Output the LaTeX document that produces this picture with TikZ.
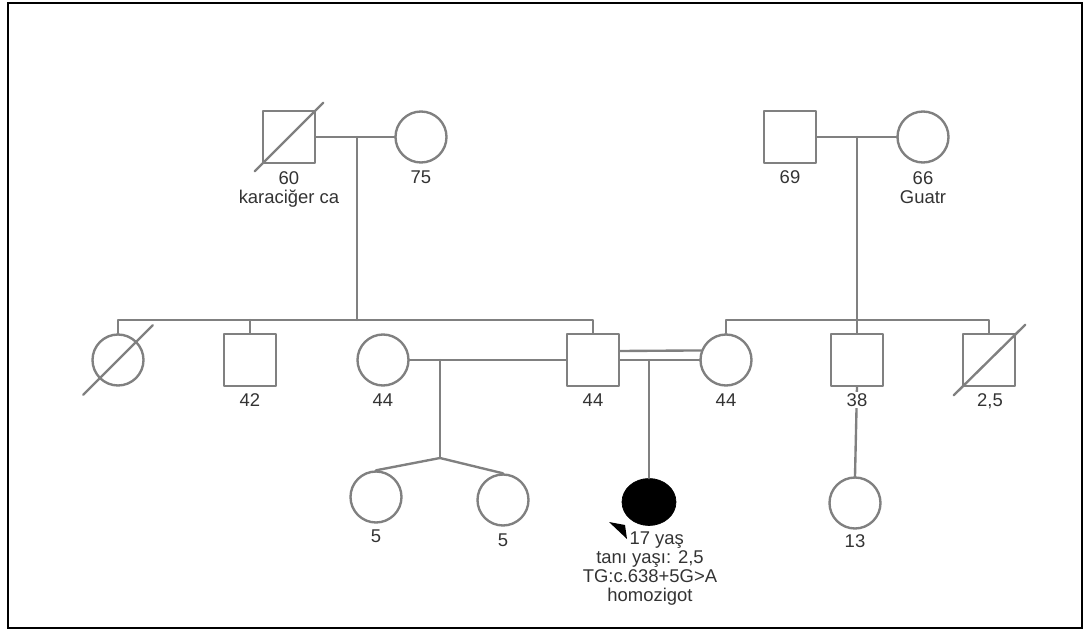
\documentclass[tikz,border=0pt]{standalone}
\usepackage{fontspec}
\setmainfont{Liberation Sans}
\usetikzlibrary{shapes.geometric}

\begin{document}
\begin{tikzpicture}[x=.02cm, y=-.02cm, line cap=round, line join=round]
  \tikzset{conn/.style={draw=gray, line width=1.35pt},
    male/.style={conn, rectangle, minimum size=1.04cm, inner sep=0pt},
    female/.style={conn, circle, minimum size=1.02cm, inner sep=0pt},
    affected/.style={draw=black, fill=black, ellipse, minimum width=1.08cm, minimum height=.94cm, inner sep=0pt},
    lbl/.style={text=black!80, font=\fontsize{10.5}{10.8}\selectfont, align=center, inner sep=1pt}}

  \useasboundingbox (0,0) rectangle (1090,632);
  \draw[black, line width=1.6pt, line cap=butt, line join=miter] (8,3) rectangle (1082,628);

  % grandparents
  \node[male] (gf) at (289,137) {};
  \node[female] (gm) at (421,137) {};
  \node[male] (gf2) at (790,137) {};
  \node[female] (gm2) at (923,137) {};

  % second generation
  \node[female] (aunt) at (118,360) {};
  \node[male] (uncle) at (250,360) {};
  \node[female] (wife1) at (383,360) {};
  \node[male] (dad) at (593,360) {};
  \node[female] (mom) at (726,360) {};
  \node[male] (muncle) at (857,360) {};
  \node[male] (mbro) at (989,360) {};

  % third generation
  \node[female] (twin1) at (376,497) {};
  \node[female] (twin2) at (503,500) {};
  \node[affected] (proband) at (649,502) {};
  \node[female] (cousin) at (855,503) {};

  % deceased
  \draw[conn] ([shift={(-7,7)}]gf.south west) -- ([shift={(7,-7)}]gf.north east);
  \draw[conn] ([shift={(-16,16)}]aunt.south west) -- ([shift={(16,-16)}]aunt.north east);
  \draw[conn] ([shift={(-8,8)}]mbro.south west) -- ([shift={(9,-8)}]mbro.north east);

  % left family
  \coordinate (m1) at (357,137);
  \coordinate (s1) at (357,320);
  \draw[conn] (gf.east) -- (gm.west);
  \draw[conn] (m1) -- (s1);
  \draw[conn] (aunt.north) |- (s1) -| (dad.north);
  \draw[conn] (uncle.north) -- (uncle.north |- s1);

  % twins
  \coordinate (m3) at (440,360);
  \coordinate (tw) at (440,458);
  \draw[conn] (wife1.east) -- (dad.west);
  \draw[conn] (m3) -- (tw);
  \draw[conn] (twin1.north) -- (tw) -- (twin2.north);

  % consanguineous couple
  \coordinate (m4) at (649,360);
  \draw[conn] (dad.east) -- (mom.west);
  \draw[conn] ([shift={(0,-9)}]dad.east) -- (mom.159);
  \draw[conn] (m4) -- (proband.north);
  \fill[black] (609,522) -- (625,525) -- (627,539) -- cycle;

  % right family
  \coordinate (m2) at (857,137);
  \coordinate (s2) at (857,320);
  \draw[conn] (gf2.east) -- (gm2.west);
  \draw[conn] (m2) -- (muncle.north);
  \draw[conn] (mom.north) |- (s2) -| (mbro.north);
  \draw[conn] (muncle.south) -- (cousin.north);

  % labels
  \node[lbl, anchor=north] (gfage) at (289,170) {60\\karaciğer ca};
  \node[lbl] (gmage) at (421,177) {75};
  \node[lbl] (gf2age) at (790,177) {69};
  \node[lbl, anchor=north] (gm2age) at (923,170) {66\\Guatr};
  \node[lbl] (uncleage) at (250,400) {42};
  \node[lbl] (wife1age) at (383,400) {44};
  \node[lbl] (dadage) at (593,400) {44};
  \node[lbl] (momage) at (726,400) {44};
  \node[lbl, fill=white] (muncleage) at (857,400) {38};
  \node[lbl] (mbroage) at (990,401) {2,5};
  \node[lbl] (twin1age) at (376,536) {5};
  \node[lbl] (twin2age) at (503,540) {5};
  \node[lbl] (cousinage) at (855,541) {13};
  \node[lbl, anchor=north] (probandtxt) at (650,530) {\hspace*{.27cm}17 yaş\\tanı yaşı: 2,5\\TG:c.638+5G>A\\homozigot};
\end{tikzpicture}
\end{document}
